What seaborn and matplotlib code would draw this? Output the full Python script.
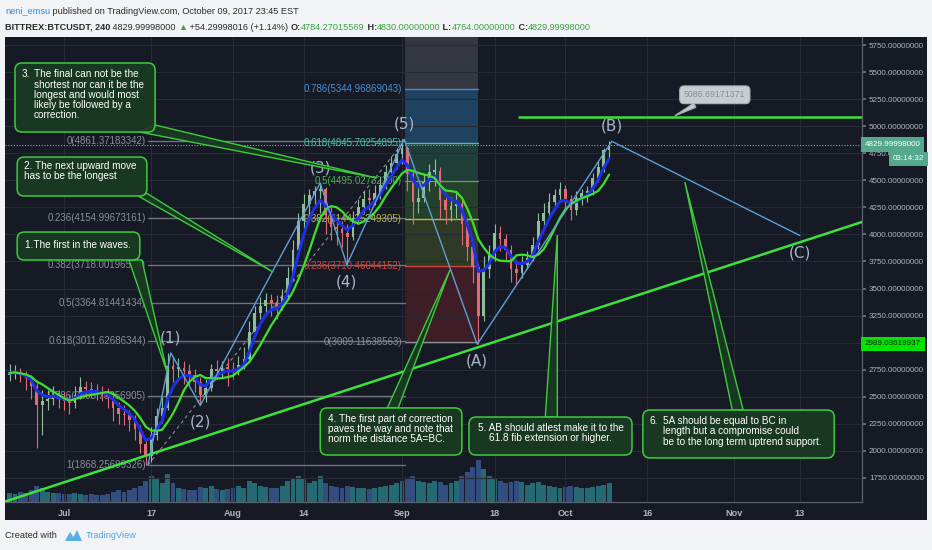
import matplotlib
matplotlib.use("Agg")
import numpy as np
import pandas as pd
import matplotlib.pyplot as plt
import seaborn as sns
import matplotlib.transforms as mtransforms
from matplotlib.patches import Rectangle, FancyBboxPatch, Polygon

# BITTREX:BTCUSDT, read off the chart as one candle per day
# day 0 = Jul 1 2017
days = list(range(-10, 101))
closes = [2720, 2730, 2700, 2675, 2600, 2420, 2460, 2480, 2510, 2480,
          2460, 2440, 2520, 2590, 2570, 2560, 2540, 2530, 2500, 2400,
          2340, 2330, 2290, 2200, 2060, 1950, 2150, 2320, 2400, 2780,
          2760, 2770, 2740, 2700, 2640, 2520, 2580, 2760, 2740, 2770,
          2760, 2740, 2790, 2850, 3100, 3270, 3340, 3390, 3370, 3330,
          3420, 3600, 3860, 4120, 4280, 4360, 4400, 4420, 4180, 4070,
          4050, 4010, 3980, 4150, 4250, 4330, 4320, 4380, 4460, 4580,
          4660, 4740, 4800, 4560, 4300, 4340, 4480, 4580, 4590, 4320,
          4230, 4260, 4280, 4100, 3880, 3700, 3250, 3680, 3820, 4010,
          3960, 3860, 3680, 3640, 3720, 3780, 3900, 4120, 4200, 4300,
          4360, 4420, 4330, 4230, 4340, 4380, 4400, 4520, 4620, 4780,
          4830]
highs = [2800, 2790, 2770, 2740, 2700, 2640, 2560, 2560, 2600, 2560,
         2540, 2520, 2600, 2680, 2650, 2640, 2620, 2600, 2580, 2540,
         2450, 2420, 2380, 2330, 2240, 2100, 2220, 2400, 2500, 2905,
         2870, 2860, 2830, 2800, 2760, 2680, 2660, 2800, 2840, 2830,
         2860, 2820, 2880, 2960, 3200, 3340, 3420, 3460, 3450, 3440,
         3500, 3700, 3950, 4200, 4370, 4420, 4450, 4475, 4440, 4250,
         4160, 4120, 4100, 4220, 4330, 4400, 4420, 4460, 4530, 4640,
         4720, 4800, 4880, 4820, 4600, 4450, 4560, 4650, 4700, 4620,
         4380, 4350, 4380, 4320, 4150, 3950, 3740, 3800, 3900, 4100,
         4080, 4000, 3900, 3760, 3800, 3850, 3980, 4200, 4290, 4380,
         4420, 4480, 4460, 4360, 4400, 4420, 4450, 4570, 4680, 4800,
         4860]
lows = [2650, 2660, 2640, 2560, 2480, 2030, 2150, 2380, 2420, 2400,
        2380, 2340, 2400, 2480, 2500, 2490, 2470, 2460, 2400, 2280,
        2250, 2240, 2180, 2100, 1980, 1868, 1900, 2100, 2260, 2380,
        2640, 2650, 2620, 2600, 2540, 2420, 2450, 2550, 2660, 2680,
        2600, 2660, 2700, 2760, 2820, 3060, 3220, 3260, 3250, 3220,
        3300, 3400, 3580, 3830, 4050, 4150, 4250, 4200, 4000, 3950,
        3900, 3880, 3720, 3950, 4100, 4200, 4230, 4270, 4330, 4420,
        4520, 4600, 4650, 4400, 4100, 4200, 4300, 4400, 4450, 4150,
        4100, 4120, 4150, 3900, 3750, 3550, 2985, 3200, 3600, 3750,
        3850, 3750, 3560, 3540, 3600, 3680, 3750, 3870, 4080, 4150,
        4230, 4300, 4220, 4130, 4180, 4270, 4300, 4360, 4480, 4580,
        4700]
volumes = [8, 7, 9, 8, 10, 14, 12, 9, 8, 8,
           7, 7, 8, 7, 6, 7, 6, 6, 7, 9,
           10, 9, 10, 12, 14, 18, 22, 20, 16, 24,
           16, 12, 11, 10, 10, 13, 12, 14, 11, 10,
           11, 12, 14, 12, 18, 16, 14, 13, 12, 12,
           14, 18, 20, 22, 20, 16, 18, 22, 16, 14,
           13, 12, 14, 13, 12, 12, 11, 12, 13, 14,
           15, 16, 18, 20, 22, 18, 17, 16, 18, 17,
           15, 16, 18, 22, 26, 30, 36, 28, 22, 20,
           18, 16, 17, 18, 17, 15, 16, 17, 15, 14,
           13, 12, 13, 14, 13, 12, 12, 13, 14, 15,
           16]
first_open = 2700

# elliott wave pivots
wave_days = [15.4, 19.6, 25.0, 47.0, 51.9, 62.4, 75.8, 100.5, 135.0]
wave_prices = [1868, 2905, 2420, 4475, 3720, 4880, 2985, 4860, 3990]
wave_labels = ["", "(1)", "(2)", "(3)", "(4)", "(5)", "(A)", "(B)", "(C)"]

# fib retracement 1 (impulse) and 2 (correction)
fib1_levels = [0, 0.236, 0.382, 0.5, 0.618, 0.786, 1]
fib1_prices = [4861.37183342, 4154.99673161, 3718.00196524, 3364.81441434,
               3011.62686344, 2508.78356905, 1868.25699326]
fib2_levels = [0, 0.236, 0.382, 0.5, 0.618, 0.786]
fib2_prices = [3009.11638563, 3710.46044152, 4144.35249305, 4495.02732200,
               4845.70254895, 5344.96869043]

support_days = [-10.8, 146.4]
support_prices = [1532, 4115]
resist_days = [83.5, 146.4]
resist_price = 5086.69171371
last_price = 4829.99998
low_tag = 2989.03619937

tick_days = [0, 16, 31, 44, 62, 79, 92, 107, 123, 135]
tick_labels = ["Jul", "17", "Aug", "14", "Sep", "18", "Oct", "16", "Nov", "13"]
price_ticks = list(range(1750, 5751, 250))

notes = [
    "1.The first in the waves.",
    "The next upward move\nhas to be the longest",
    "The final can not be the\nshortest nor can it be the\nlongest and would most\nlikely be followed by a\ncorrection.",
    "4. The first part of correction\npaves the way and note that\nnorm the distance 5A=BC.",
    "5. AB should atlest make it to the\n61.8 fib extension or higher.",
    "5A should be equal to BC in\nlength but a compromise could\nbe to the long term uptrend support.",
]

# ---------------------------------------------------------------
sns.set_theme(style="dark")
plt.rcParams["font.family"] = ["Liberation Sans", "DejaVu Sans"]

W, H = 932, 550
fig = plt.figure(figsize=(W / 100, H / 100), dpi=100)
fig.patch.set_facecolor("#f1f3f6")
fig.add_artist(Rectangle((5 / W, 1 - 520 / H), 922 / W, 483 / H,
                         transform=fig.transFigure, fc="#161a25", ec="none", zorder=0))

ax = fig.add_axes([5 / W, 1 - 502 / H, 857 / W, 465 / H])
vax = ax.twinx()
ax.set_zorder(2)
vax.set_zorder(1)
ax.patch.set_visible(False)
vax.patch.set_visible(False)

ax.set_xlim(-10.83, 146.4)
ax.set_ylim(1528, 5824)

# volume
df = pd.DataFrame({"day": days, "open": [first_open] + closes[:-1], "close": closes,
                   "high": highs, "low": lows, "vol": volumes})
up = df["close"] >= df["open"]
vax.bar(df["day"], df["vol"], width=0.9,
        color=np.where(up, "#2a7f86", "#3b5a96"), alpha=0.8, lw=0)
vax.set_ylim(0, 400)
vax.set_yticks([])
for s in vax.spines.values():
    s.set_visible(False)

# grid
ax.set_axisbelow(True)
ax.set_xticks(tick_days)
ax.set_yticks(price_ticks)
ax.grid(True, color="#272b36", lw=0.8)

# fib 2 bands
top = ax.get_ylim()[1]
band_cols = ["#3f1d27", "#2e3a25", "#25402b", "#1e3f38", "#1e4260", "#34373f"]
edges = fib2_prices + [top]
for i, c in enumerate(band_cols):
    ax.fill_between([62.6, 76.0], edges[i], edges[i + 1], color=c, lw=0, zorder=0.5)
fib2_cols = ["#8a8d94", "#d0453e", "#b8b845", "#4cb050", "#3cc4a4", "#4a8fd0"]
for lvl, p, c in zip(fib2_levels, fib2_prices, fib2_cols):
    ax.plot([62.6, 76.0], [p, p], color=c, lw=1, zorder=1)
    ax.text(62.0, p, f"{lvl:g}({p:.8f})", color=c, fontsize=7,
            ha="right", va="center", zorder=2)

# fib 1
for lvl, p in zip(fib1_levels, fib1_prices):
    ax.plot([15.4, 62.6], [p, p], color="#6f737c", lw=1, zorder=1)
    ax.text(15.0, p, f"{lvl:g}({p:.8f})", color="#8a8e98", fontsize=7,
            ha="right", va="center", zorder=2)
ax.plot([15.4, 62.4], [fib1_prices[-1], fib1_prices[0]], color="#8a8d94", lw=0.8,
        ls=(0, (3, 3)), zorder=2)

ax.axhline(last_price, color="#9a9da5", lw=0.8, ls=(0, (1, 1.5)), zorder=2)

# candles
ccol = np.where(up, "#8fbf9a", "#e06b74")
ax.vlines(df["day"], df["low"], df["high"], colors=ccol, lw=0.8, zorder=3)
body_lo = df[["open", "close"]].min(axis=1)
body_h = (df["close"] - df["open"]).abs().clip(lower=12)
ax.bar(df["day"], body_h, bottom=body_lo, width=0.5, color=ccol, lw=0, zorder=3)

# moving averages
df["fast"] = df["close"].ewm(span=4).mean()
df["slow"] = df["close"].rolling(7, min_periods=1).mean()
sns.lineplot(data=df, x="day", y="fast", ax=ax, color="#1f2fe6", lw=2.2, zorder=4)
sns.lineplot(data=df, x="day", y="slow", ax=ax, color="#3fe02c", lw=1.6, zorder=4)

# trend lines
sns.lineplot(x=support_days, y=support_prices, ax=ax, color="#3be23b", lw=1.8, zorder=5)
sns.lineplot(x=resist_days, y=[resist_price] * 2, ax=ax, color="#3be23b", lw=1.8, zorder=5)

# waves
sns.lineplot(x=wave_days, y=wave_prices, ax=ax, sort=False, color="#5d9fd8", lw=1.0, zorder=5)
for i, (d, p, lab) in enumerate(zip(wave_days, wave_prices, wave_labels)):
    if not lab:
        continue
    peak = p > wave_prices[i - 1]
    ax.annotate(lab, (d, p), xytext=(0, 15 if peak else -17), textcoords="offset pixels",
                ha="center", va="center", fontsize=11, color="#a7b6c8",
                family="DejaVu Sans", zorder=6)

ax.annotate("5086.69171371", xy=(111.7, resist_price), xytext=(119.4, 5290),
            ha="center", va="center", fontsize=6.3, color="#8b8e95",
            bbox=dict(boxstyle="round,pad=0.5", fc="#c9ccd1", ec="#aeb1b6", lw=0.8),
            arrowprops=dict(arrowstyle="wedge,tail_width=0.5", fc="#c9ccd1", ec="#aeb1b6"),
            zorder=8)

# call-out boxes
ASP = 5.45 / 0.10825
box_fc = (0.10, 0.23, 0.13, 0.93)
box_ec = "#3dcc3d"
callouts = [
    ((-8.6, 13.9, 3764, 4022), [(11.9, 3764), (14.3, 3764)], (18.9, 2729)),
    ((-8.6, 15.2, 4355, 4715), [(13.6, 4355), (15.2, 4380)], (38.35, 3653)),
    ((-9.0, 16.7, 4946, 5584), [(13.9, 4946), (16.7, 5011)], (57.4, 4521)),
    ((47.0, 73.0, 1962, 2397), [(59.3, 2397), (61.3, 2397)], (70.8, 3671)),
    ((74.3, 104.2, 1962, 2313), [(88.3, 2313), (90.5, 2313)], (90.5, 3995)),
    ((106.2, 141.3, 1935, 2378), [(122.6, 2378), (124.6, 2378)], (113.9, 4484)),
]
for (x0, x1, y0, y1), base, tip in callouts:
    ax.add_patch(Polygon([base[0], tip, base[1]], closed=True, fc=box_fc, ec=box_ec,
                         lw=1.0, zorder=7))
    ax.add_patch(FancyBboxPatch((x0, y0), x1 - x0, y1 - y0,
                                boxstyle="round,pad=0,rounding_size=1.3",
                                mutation_aspect=ASP, fc=box_fc, ec=box_ec, lw=1.1, zorder=7.5))

tk = dict(color="white", fontsize=7.2, va="top", linespacing=1.02, zorder=9)
ax.text(2.6, 3950, notes[0], ha="center", **tk)
ax.text(-7.4, 4680, "2. " + notes[1], ha="left", **tk)
ax.text(-7.8, 5525, "3.", ha="left", **tk)
ax.text(-5.6, 5525, notes[2], ha="left", **tk)
ax.text(48.4, 2340, notes[3], ha="left", **tk)
ax.text(89.3, 2255, notes[4], ha="center", multialignment="center", **tk)
ax.text(107.5, 2320, "6.", ha="left", **tk)
ax.text(109.9, 2320, notes[5], ha="left", **tk)

# axes styling
ax.yaxis.tick_right()
ax.set_yticklabels(["" if v == 3000 else f"{v:.8f}" for v in price_ticks])
ax.set_xticklabels(tick_labels)
ax.tick_params(axis="y", labelsize=5.8, length=3, pad=2,
               color="#6d717b", labelcolor="#b2b5be")
ax.tick_params(axis="x", labelsize=6.6, length=0, pad=5, labelcolor="#b2b5be")
for lab in ax.get_xticklabels():
    lab.set_fontweight("bold")
ax.set_xlabel("")
ax.set_ylabel("")
for side in ["top", "left"]:
    ax.spines[side].set_visible(False)
for side in ["right", "bottom"]:
    ax.spines[side].set_visible(True)
    ax.spines[side].set_color("#5d616b")
    ax.spines[side].set_linewidth(0.9)

# price tags on the scale
bt = mtransforms.blended_transform_factory(ax.transAxes, ax.transData)
tag = dict(transform=bt, va="center", fontsize=5.8, zorder=10)
ax.text(1.0035, last_price, f"{last_price:.8f}", ha="left", color="white",
        bbox=dict(boxstyle="square,pad=0.45", fc="#54a98c", ec="none"), **tag)
ax.text(1.0723, 4697, "03:14:32", ha="right", color="white",
        bbox=dict(boxstyle="square,pad=0.45", fc="#54a98c", ec="none"), **tag)
ax.text(1.0035, low_tag, f"{low_tag:.8f}", ha="left", color="#0d2a0d",
        bbox=dict(boxstyle="square,pad=0.45", fc="#00e400", ec="none"), **tag)

# header and footer
renderer = fig.canvas.get_renderer()


def put_row(x_px, y_px, parts, size):
    x = x_px
    for txt, col, wt in parts:
        t = fig.text(x / W, 1 - y_px / H, txt, color=col, fontsize=size, fontweight=wt,
                     ha="left", va="center")
        x = t.get_window_extent(renderer).x1


dark = "#2b2b2b"
grn = "#3ea043"
put_row(5, 11, [("neni_emsu", "#2a8be0", "normal"),
                (" published on TradingView.com, October 09, 2017 23:45 EST", dark, "normal")], 6.6)
put_row(5, 27, [("BITTREX:BTCUSDT, 240", dark, "bold"), (" 4829.99998000 ", dark, "normal"),
                ("▲", grn, "normal"), (" +54.29998016 (+1.14%) ", dark, "normal"),
                ("O:", dark, "bold"), ("4784.27015569", grn, "normal"),
                (" H:", dark, "bold"), ("4830.00000000", grn, "normal"),
                (" L:", dark, "bold"), ("4764.00000000", grn, "normal"),
                (" C:", dark, "bold"), ("4829.99998000", grn, "normal")], 6.55)
put_row(5, 535, [("Created with", dark, "normal")], 6.6)
logo = [(65, 541), (70, 532), (73.5, 537), (77, 530), (82, 541)]
fig.add_artist(Polygon([(x / W, 1 - y / H) for x, y in logo], closed=True,
                       transform=fig.transFigure, fc="#5aaee6", ec="none"))
put_row(86, 535, [("TradingView", "#4ea4e8", "normal")], 6.6)

fig.savefig("out.png", dpi=100, facecolor=fig.get_facecolor())
